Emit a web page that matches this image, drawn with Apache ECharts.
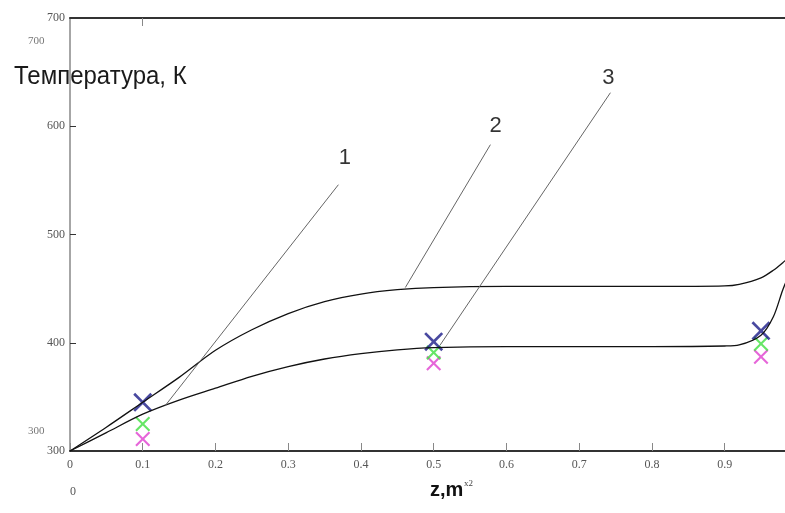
<!DOCTYPE html>
<html>
<head>
<meta charset="utf-8">
<script src="https://cdn.jsdelivr.net/npm/echarts@6/dist/echarts.min.js"></script>
<style>
  html, body { margin: 0; padding: 0; background: #fff; }
  #chart { width: 785px; height: 513px; }
</style>
</head>
<body>
<div id="chart"></div>
<script>
const zPoints = [0, 0.05, 0.1, 0.15, 0.2, 0.25, 0.3, 0.35, 0.4, 0.45, 0.5, 0.6, 0.7, 0.8, 0.9, 0.92, 0.95, 0.967, 0.98, 0.99]
// curve 2 (upper)
const curve2 = [300, 322, 345, 368, 393, 412, 427, 438, 445, 449, 451, 452, 452, 452, 452.5, 454, 460, 467, 474, 480]
// curve 1 (lower)
const curve1 = [300, 317, 334, 347, 358, 369, 378, 385, 390, 393.5, 395.5, 396.5, 396.5, 396.5, 397, 398, 407, 424, 449, 465]

// measured points (crosses)
const markerZ = [0.1, 0.5, 0.95]
const blueVals = [345, 401, 411]
const greenVals = [325, 391, 399]
const magentaVals = [311, 381, 387]

// callout labels: text position and leader line ends (data coords)
const calloutText = ['1', '2', '3']
const calloutTextPos = [[0.378, 571], [0.585, 600], [0.740, 645]]
const calloutFrom = [[0.369, 546], [0.578, 583], [0.743, 631]]
const calloutTo = [[0.131, 342], [0.461, 451], [0.509, 398]]

const xTicks = { min: 0, max: 0.983, interval: 0.1 }
const yTicks = { min: 300, max: 700, interval: 100 }

const crossPath = 'path://M0,1 L1,0 L5,4 L9,0 L10,1 L6,5 L10,9 L9,10 L5,6 L1,10 L0,9 L4,5 Z'

const pairs = (xs, ys) => xs.map((x, i) => [x, ys[i]])

const chart = echarts.init(document.getElementById('chart'))

const serifLabel = { fontFamily: 'Liberation Serif', fontSize: 12, color: '#555' }

chart.setOption({
    backgroundColor: '#fff',
    animation: false,
    grid: { left: 70, right: 0, top: 18, bottom: 62, containLabel: false },
    xAxis: [
        {
            type: 'value',
            min: xTicks.min,
            max: xTicks.max,
            interval: xTicks.interval,
            axisLine: { lineStyle: { color: '#333', width: 2 } },
            axisTick: { inside: true, length: 8, lineStyle: { color: '#888', width: 1 } },
            axisLabel: {
                ...serifLabel,
                margin: 8,
                showMaxLabel: false,
                formatter: (v) => (v === 0 ? '0' : v.toFixed(1)),
            },
            splitLine: { show: false },
        },
        {
            type: 'value',
            position: 'top',
            min: xTicks.min,
            max: xTicks.max,
            axisLine: { show: true, onZero: false, lineStyle: { color: '#333', width: 2 } },
            axisTick: { inside: true, length: 8, customValues: [0.1], lineStyle: { color: '#888' } },
            axisLabel: { show: false },
            splitLine: { show: false },
        },
    ],
    yAxis: {
        type: 'value',
        min: yTicks.min,
        max: yTicks.max,
        interval: yTicks.interval,
        axisLine: { show: true, lineStyle: { color: '#888', width: 1.5 } },
        axisTick: { show: true, inside: true, length: 6, lineStyle: { color: '#333' } },
        axisLabel: { ...serifLabel, margin: 5 },
        splitLine: { show: false },
    },
    graphic: [
        {
            type: 'text', left: 14, top: 64, scaleY: 1.1,
            style: { text: 'Температура, К', font: '24px "Liberation Sans"', fill: '#1a1a1a' },
        },
        { type: 'text', left: 28, top: 36, style: { text: '700', font: '11px "Liberation Serif"', fill: '#777' } },
        { type: 'text', left: 28, top: 426, style: { text: '300', font: '11px "Liberation Serif"', fill: '#777' } },
        { type: 'text', left: 70, top: 486, style: { text: '0', font: '12px "Liberation Serif"', fill: '#555' } },
        { type: 'text', left: 430, top: 480, style: { text: 'z,m', font: 'bold 20px "Liberation Sans"', fill: '#111' } },
        { type: 'text', left: 464, top: 479, style: { text: 'x2', font: '9px "Liberation Serif"', fill: '#444' } },
    ],
    series: [
        {
            name: '2',
            type: 'line',
            data: pairs(zPoints, curve2),
            smooth: 0.3,
            showSymbol: false,
            lineStyle: { color: '#111', width: 1.3 },
        },
        {
            name: '1',
            type: 'line',
            data: pairs(zPoints, curve1),
            smooth: 0.3,
            showSymbol: false,
            lineStyle: { color: '#111', width: 1.3 },
        },
        {
            name: 'magenta',
            type: 'scatter',
            data: pairs(markerZ, magentaVals),
            symbol: crossPath,
            symbolSize: 15,
            itemStyle: { color: '#e040d0' },
        },
        {
            name: 'green',
            type: 'scatter',
            data: pairs(markerZ, greenVals),
            symbol: crossPath,
            symbolSize: 15,
            itemStyle: { color: '#40e040' },
        },
        {
            name: 'blue',
            type: 'scatter',
            data: pairs(markerZ, blueVals),
            symbol: crossPath,
            symbolSize: 19,
            itemStyle: { color: '#1c1c88' },
        },
        {
            name: 'callouts',
            type: 'scatter',
            data: calloutTextPos.map((p, i) => [p[0], p[1], calloutText[i]]),
            symbolSize: 0,
            label: {
                show: true,
                position: 'inside',
                formatter: (p) => p.value[2],
                fontFamily: 'Liberation Sans',
                fontSize: 22,
                color: '#000',
            },
            markLine: {
                silent: true,
                symbol: ['none', 'none'],
                label: { show: false },
                lineStyle: { color: '#666', width: 1, type: 'solid' },
                data: calloutFrom.map((f, i) => [{ coord: f }, { coord: calloutTo[i] }]),
            },
        },
    ],
})
</script>
</body>
</html>
